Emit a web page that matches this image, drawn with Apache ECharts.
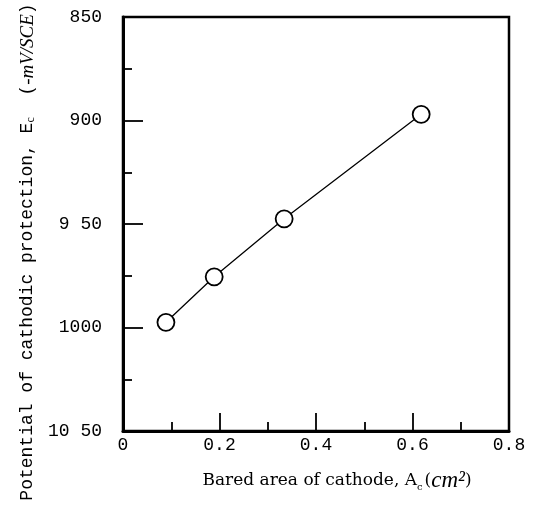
<!DOCTYPE html>
<html>
<head>
<meta charset="utf-8">
<script src="https://cdn.jsdelivr.net/npm/echarts@6/dist/echarts.min.js"></script>
<style>
  html, body { margin: 0; padding: 0; background: #fff; }
  #chart { width: 545px; height: 506px; }
</style>
</head>
<body>
<div id="chart"></div>
<script>
// bared area of cathode Ac (cm2)
var areaValues = [0.089, 0.189, 0.334, 0.618];
// potential of cathodic protection Ec (-mV/SCE)
var potentialValues = [997.5, 975.5, 947.5, 897];
var xTickLabels = ['0', '0.2', '0.4', '0.6', '0.8'];
var yTickLabels = ['850', '900', '9 50', '1000', '10 50'];

var points = areaValues.map(function (x, i) { return [x, potentialValues[i]]; });

var labelFont = 'Liberation Mono';

var myChart = echarts.init(document.getElementById('chart'));
var option = {
  backgroundColor: '#fff',
  animation: false,
  grid: {
    left: 123,
    right: 36,
    top: 17,
    bottom: 75,
    show: true,
    borderColor: '#000',
    borderWidth: 2.5,
    backgroundColor: 'transparent'
  },
  xAxis: {
    type: 'value',
    min: 0,
    max: 0.8,
    interval: 0.2,
    axisLine: { show: true, lineStyle: { color: '#000', width: 3 } },
    axisTick: { show: true, inside: true, length: 18, lineStyle: { color: '#000', width: 1.8 } },
    minorTick: { show: true, splitNumber: 2, length: 9, lineStyle: { color: '#000', width: 1.8 } },
    splitLine: { show: false },
    axisLabel: {
      margin: 5,
      color: '#000',
      fontFamily: labelFont,
      fontSize: 18,
      formatter: function (v) {
        var i = Math.round(v / 0.2);
        return xTickLabels[i] || '';
      }
    },
    name: '{t|Bared area of cathode, A}{s|c}{t|(}{i|cm²}{t|)}',
    nameLocation: 'middle',
    nameGap: 38,
    nameTextStyle: {
      padding: [0, 0, 0, 42],
      rich: {
        t: { fontFamily: 'DejaVu Serif', fontSize: 17, color: '#000' },
        s: { fontFamily: 'DejaVu Serif', fontSize: 10, color: '#000', verticalAlign: 'bottom', padding: [6, 2, 0, 0] },
        i: { fontFamily: 'Liberation Serif', fontStyle: 'italic', fontSize: 23, color: '#000' }
      }
    }
  },
  yAxis: {
    type: 'value',
    inverse: true,
    min: 850,
    max: 1050,
    interval: 50,
    axisLine: { show: true, lineStyle: { color: '#000', width: 3 } },
    axisTick: { show: true, inside: true, length: 20, lineStyle: { color: '#000', width: 1.8 } },
    minorTick: { show: true, splitNumber: 2, length: 9, lineStyle: { color: '#000', width: 1.8 } },
    splitLine: { show: false },
    axisLabel: {
      margin: 21,
      color: '#000',
      fontFamily: labelFont,
      fontSize: 18,
      formatter: function (v) {
        var i = Math.round((v - 850) / 50);
        return yTickLabels[i] || '';
      }
    },
    name: '{t|Potential of cathodic protection, E}{s|c}{t|  (}{i|-mV/SCE}{t|)}',
    nameLocation: 'middle',
    nameRotate: 90,
    nameGap: 85,
    nameTextStyle: {
      padding: [0, 56, 0, 0],
      rich: {
        t: { fontFamily: 'Liberation Mono', fontSize: 18, color: '#000' },
        s: { fontFamily: 'Liberation Serif', fontSize: 12, color: '#000', verticalAlign: 'bottom' },
        i: { fontFamily: 'Liberation Serif', fontStyle: 'italic', fontSize: 19, color: '#000' }
      }
    }
  },
  series: [{
    type: 'line',
    data: points,
    symbol: 'circle',
    symbolSize: 17,
    showAllSymbol: true,
    lineStyle: { color: '#000', width: 1.3 },
    itemStyle: { color: '#fff', borderColor: '#000', borderWidth: 1.8 },
    z: 3
  }]
};
myChart.setOption(option);
</script>
</body>
</html>
